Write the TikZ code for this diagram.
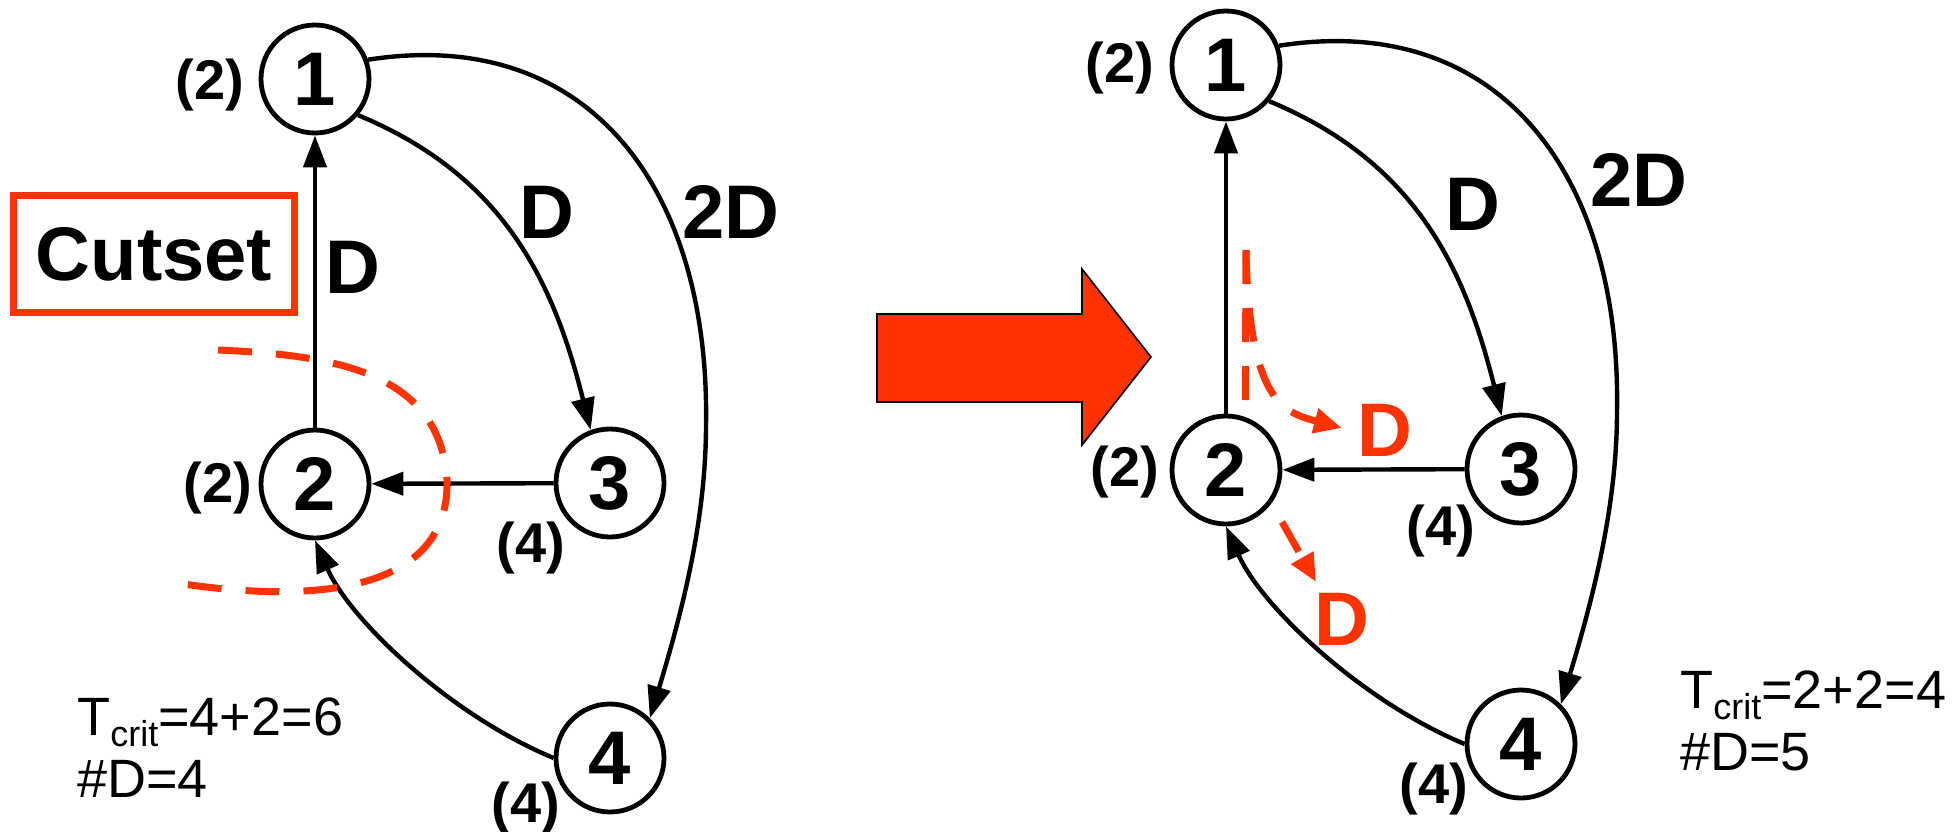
\documentclass[tikz,border=0pt]{standalone}
\usepackage{fontspec}
\setmainfont{Liberation Sans}
\usetikzlibrary{arrows.meta}
\definecolor{cutred}{RGB}{255,51,0}

\begin{document}
\begin{tikzpicture}[x=0.5pt,y=-0.5pt,
  vertex/.style={circle,draw,line width=2.4pt,minimum size=54pt,inner sep=0pt,font=\bfseries\fontsize{38}{38}\selectfont},
  ctime/.style={font=\bfseries\fontsize{28}{28}\selectfont},
  dly/.style={font=\bfseries\fontsize{38}{38}\selectfont},
  edge/.style={line width=2.2pt,-{Triangle[length=16pt,width=11.5pt]}},
  cutline/.style={cutred,line width=3.5pt,dash pattern=on 17pt off 12pt},
  cutarrow/.style={cutline,-{Triangle[length=14pt,width=12pt]}},
  info/.style={anchor=north west,inner sep=0pt,align=left,font=\fontsize{27}{31}\selectfont}]
\useasboundingbox (0,0) rectangle (1954,831);

% left graph, before retiming
\node[vertex] (l1) at (315,79) {1};
\node[vertex] (l2) at (315,484) {2};
\node[vertex] (l3) at (610,483) {3};
\node[vertex] (l4) at (610,758) {4};
\node[ctime] (t1) at (210,85) {(2)};
\node[ctime] (t2) at (218,488) {(2)};
\node[ctime] (t3) at (531,548) {(4)};
\node[ctime] (t4) at (526,808) {(4)};

\draw[edge] (l2) -- (l1);
\draw[edge] (l3) -- (l2);
\draw[edge] (l1.-40) .. controls (508,177) and (555,288) .. (l3.110);
\draw[edge] (l1.20) .. controls (590,25) and (710,190) .. (706,425)
  .. controls (706,520) and (682,612) .. (l4.45);
\draw[edge] (l4.west) .. controls (450,715) and (350,620) .. (l2.south);
\node[dly] (d21) at (353,267) {D};
\node[dly] (d13) at (547,212) {D};
\node[dly] (d14) at (731,212) {2D};

\node[draw=cutred,line width=3.5pt,minimum width=140.5pt,minimum height=58.5pt,inner sep=0pt,dly] (cutset) at (154,254) {Cutset};
\draw[cutline] (218,350) .. controls (330,355) and (440,370) .. (447,480)
  .. controls (450,590) and (320,605) .. (177,583);

\node[info] (tl) at (77,697) {T\raisebox{-5.5pt}{\fontsize{18}{18}\selectfont crit}=4+2=6\\\#D=4};

% big arrow
\draw[line width=0.8pt,fill=cutred] (877,314) -- (1082,314) -- (1082,269) -- (1151,357)
  -- (1082,445) -- (1082,402) -- (877,402) -- cycle;

% right graph, after retiming
\begin{scope}[shift={(911,-14)}]
\node[vertex] (r1) at (315,79) {1};
\node[vertex] (r2) at (315,484) {2};
\node[vertex] (r3) at (610,483) {3};
\node[vertex] (r4) at (610,758) {4};
\node[ctime] (s1) at (209,82) {(2)};
\node[ctime] (s2) at (214,486) {(2)};
\node[ctime] (s3) at (530,545) {(4)};
\node[ctime] (s4) at (523,803) {(4)};

\draw[edge] (r2) -- (r1);
\draw[edge] (r3) -- (r2);
\draw[edge] (r1.-40) .. controls (508,177) and (555,288) .. (r3.110);
\draw[edge] (r1.20) .. controls (590,25) and (710,190) .. (706,425)
  .. controls (706,520) and (682,612) .. (r4.45);
\draw[edge] (r4.west) .. controls (450,715) and (350,620) .. (r2.south);
\node[dly] (e13) at (562,218) {D};
\node[dly] (e14) at (728,194) {2D};
\end{scope}

\coordinate (ctop) at (1246,250);
\coordinate (dtip) at (1342,428);
\coordinate (dbot) at (1282,522);
\coordinate (dtip2) at (1316,582);
\draw[cutline] (ctop) -- (r2.70);
\draw[cutarrow] (ctop) .. controls (1249,400) and (1282,412) .. (dtip);
\draw[cutarrow] (dbot) -- (dtip2);
\node[dly,text=cutred] (rd1) at (1385,430) {D};
\node[dly,text=cutred] (rd2) at (1342,619) {D};

\node[info] (tr) at (1680,670) {T\raisebox{-5.5pt}{\fontsize{18}{18}\selectfont crit}=2+2=4\\\#D=5};
\end{tikzpicture}
\end{document}
